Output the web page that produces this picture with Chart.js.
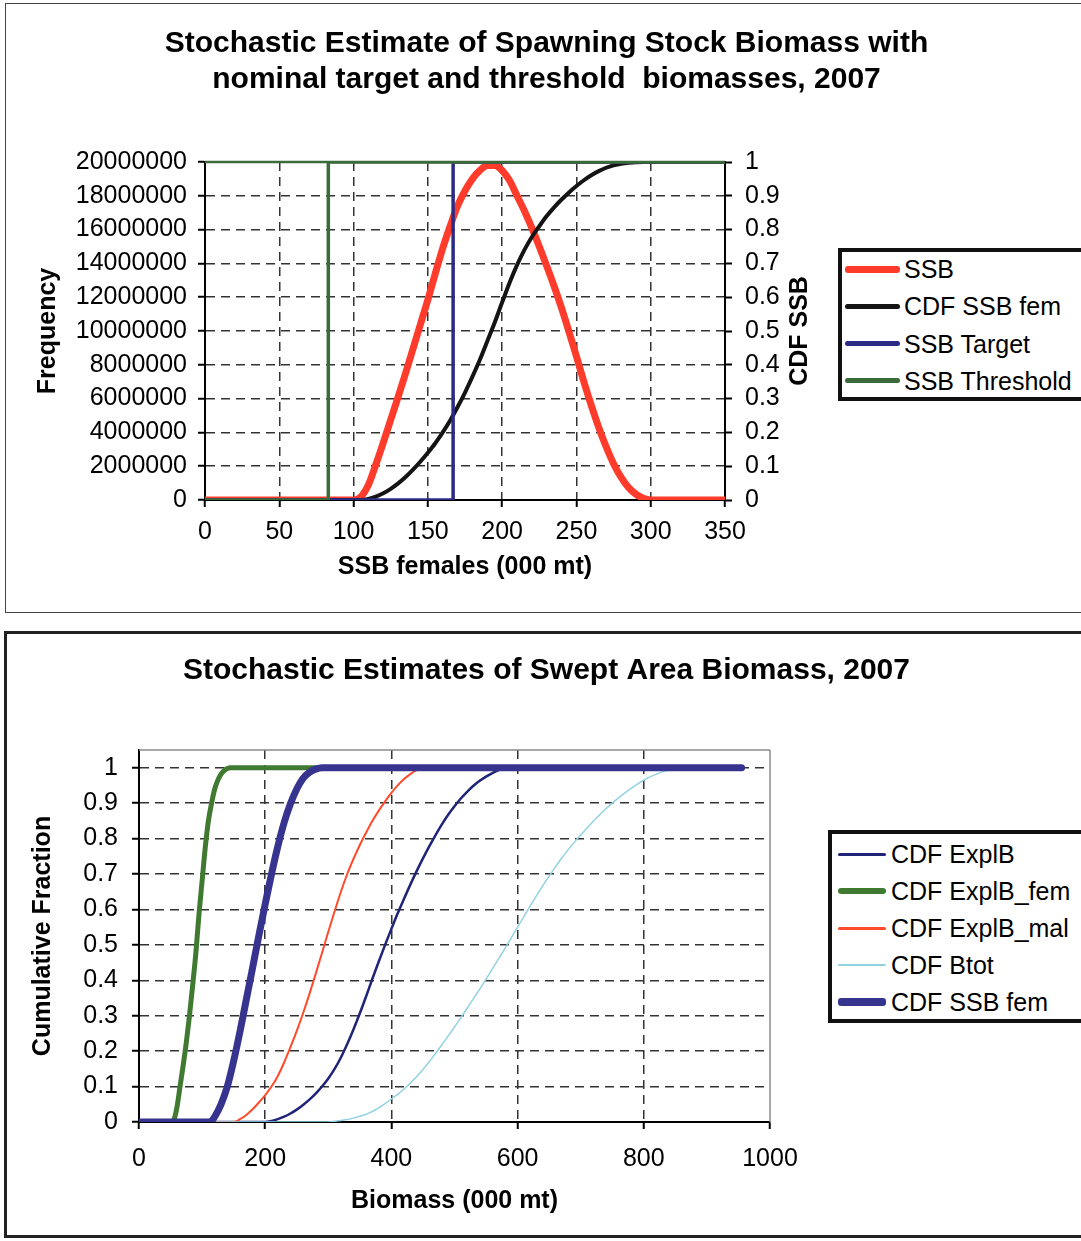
<!DOCTYPE html>
<html>
<head>
<meta charset="utf-8">
<script src="https://cdn.jsdelivr.net/npm/chart.js@4.4.1/dist/chart.umd.min.js"></script>
<style>
  html, body { margin: 0; padding: 0; background: #fff; overflow: hidden; }
  body { width: 1081px; height: 1241px; position: relative; font-family: "Liberation Sans", Arial, sans-serif; }
  .frame { position: absolute; box-sizing: border-box; }
  #frame1 { left: 5px; top: 3px; width: 1100px; height: 610px; border: 1.5px solid #444; }
  #frame2 { left: 4px; top: 631px; width: 1100px; height: 607px; border: 3px solid #222; }
  canvas { position: absolute; left: 0; }
  #c1 { top: 0; }
  #c2 { top: 620px; }
  .legend { position: absolute; box-sizing: border-box; border: 4px solid #111; background: #fff; }
  .legend .swatch { position: absolute; border-radius: 3px; }
  .legend .label { position: absolute; font-size: 25px; line-height: 28px; white-space: nowrap; color: #000; }
</style>
</head>
<body>
<div class="frame" id="frame1"></div>
<div class="frame" id="frame2"></div>
<canvas id="c1" width="1081" height="615"></canvas>
<canvas id="c2" width="1081" height="621"></canvas>
<div class="legend" id="legend1"></div>
<div class="legend" id="legend2"></div>

<script>
// ---------------------------------------------------------------------------
// Two stacked Excel-style charts: SSB frequency / CDF, and swept area CDFs
// ---------------------------------------------------------------------------

const { Chart } = window;

Chart.defaults.font.family = '"Liberation Sans", Arial, sans-serif';
Chart.defaults.color = '#000';
Chart.defaults.animation = false;

// -- Chart 1 data ---------------------------------------------------------

const ssbTicksX = [0, 50, 100, 150, 200, 250, 300, 350];
const freqTicks = [0, 2000000, 4000000, 6000000, 8000000, 10000000,
  12000000, 14000000, 16000000, 18000000, 20000000];
const cdfTicks = [0, 0.1, 0.2, 0.3, 0.4, 0.5, 0.6, 0.7, 0.8, 0.9, 1];

const ssbX = [0, 100, 105, 110, 115, 120, 125, 130, 135, 140, 145, 150, 155,
  160, 165, 170, 175, 180, 185, 190, 195, 200, 205, 210, 215, 220, 225, 230,
  235, 240, 245, 250, 255, 260, 265, 270, 275, 280, 285, 290, 295, 300, 350];

// frequency, millions
const ssbFreqM = [0, 0, 0.2, 0.9, 2.1, 3.4, 4.75, 6.1, 7.5, 8.95, 10.4,
  11.85, 13.4, 14.9, 16.2, 17.4, 18.3, 19.0, 19.5, 19.8, 19.8, 19.5, 18.9,
  18.0, 17.1, 16.1, 15.0, 13.85, 12.65, 11.35, 9.95, 8.5, 7.0, 5.6, 4.3,
  3.15, 2.15, 1.35, 0.75, 0.35, 0.1, 0, 0];

const cdfSsbFem = [0, 0, 0, 0.003, 0.01, 0.02, 0.033, 0.049, 0.068, 0.09,
  0.114, 0.14, 0.168, 0.2, 0.235, 0.275, 0.318, 0.365, 0.415, 0.47, 0.525,
  0.585, 0.643, 0.695, 0.74, 0.778, 0.81, 0.84, 0.866, 0.889, 0.91, 0.929,
  0.946, 0.961, 0.973, 0.983, 0.99, 0.995, 0.998, 0.999, 1, 1, 1];

const targetX = [0, 167, 167, 350];
const targetY = [0, 0, 1, 1];
const thresholdX = [0, 83, 83, 350];
const thresholdY = [0, 0, 1, 1];

// -- Chart 2 data ---------------------------------------------------------

const bioTicksX = [0, 200, 400, 600, 800, 1000];
const fracTicks = [0, 0.1, 0.2, 0.3, 0.4, 0.5, 0.6, 0.7, 0.8, 0.9, 1];

const explbX = [0, 200, 210, 220, 230, 240, 250, 260, 270, 280, 290, 300,
  310, 320, 330, 340, 350, 360, 370, 380, 390, 400, 410, 420, 430, 440, 450,
  460, 470, 480, 490, 500, 510, 520, 530, 540, 550, 560, 570, 580, 590, 955];
const explbY = [0, 0, 0.003, 0.008, 0.015, 0.024, 0.035, 0.048, 0.063, 0.08,
  0.1, 0.123, 0.15, 0.182, 0.22, 0.262, 0.307, 0.355, 0.405, 0.453, 0.5,
  0.545, 0.589, 0.63, 0.67, 0.708, 0.744, 0.778, 0.81, 0.84, 0.867, 0.891,
  0.913, 0.932, 0.949, 0.963, 0.975, 0.985, 0.993, 0.998, 1, 1];

const explbFemX = [0, 50, 55, 60, 65, 70, 75, 80, 85, 90, 95, 100, 105, 110,
  115, 120, 125, 130, 135, 140, 145, 955];
const explbFemY = [0, 0, 0.005, 0.04, 0.1, 0.16, 0.225, 0.3, 0.385, 0.475,
  0.585, 0.68, 0.775, 0.85, 0.9, 0.94, 0.965, 0.982, 0.992, 0.998, 1, 1];

const explbMalX = [0, 150, 160, 170, 180, 190, 200, 210, 220, 230, 240, 250,
  260, 270, 280, 290, 300, 310, 320, 330, 340, 350, 360, 370, 380, 390, 400,
  410, 420, 430, 440, 450, 955];
const explbMalY = [0, 0, 0.008, 0.02, 0.036, 0.055, 0.076, 0.1, 0.13, 0.168,
  0.211, 0.257, 0.307, 0.361, 0.418, 0.477, 0.537, 0.595, 0.65, 0.7, 0.743,
  0.782, 0.817, 0.85, 0.879, 0.905, 0.929, 0.95, 0.968, 0.982, 0.993, 1, 1];

const btotX = [0, 300, 310, 320, 330, 340, 350, 360, 370, 380, 390, 400, 410,
  420, 430, 440, 450, 460, 470, 480, 490, 500, 510, 520, 530, 540, 550, 560,
  570, 580, 590, 600, 610, 620, 630, 640, 650, 660, 670, 680, 690, 700, 710,
  720, 730, 740, 750, 760, 770, 780, 790, 800, 810, 820, 830, 840, 850, 860,
  955];
const btotY = [0, 0, 0.002, 0.004, 0.007, 0.011, 0.016, 0.022, 0.03, 0.04,
  0.052, 0.065, 0.078, 0.093, 0.11, 0.128, 0.148, 0.17, 0.194, 0.218, 0.243,
  0.268, 0.294, 0.321, 0.348, 0.375, 0.403, 0.432, 0.461, 0.49, 0.52, 0.55,
  0.58, 0.61, 0.639, 0.667, 0.694, 0.72, 0.745, 0.768, 0.79, 0.81, 0.83,
  0.849, 0.867, 0.884, 0.9, 0.915, 0.929, 0.942, 0.954, 0.965, 0.974, 0.982,
  0.989, 0.994, 0.998, 1, 1];

const ssbFemX = [0, 110, 115, 120, 130, 140, 150, 160, 170, 180, 190, 200,
  210, 220, 230, 240, 250, 260, 270, 280, 290, 955];
const ssbFemY = [0, 0, 0.003, 0.015, 0.05, 0.1, 0.172, 0.255, 0.345, 0.435,
  0.527, 0.615, 0.7, 0.778, 0.845, 0.898, 0.94, 0.97, 0.987, 0.996, 1, 1];

// -- Helpers --------------------------------------------------------------

function points(xs, ys, scale) {
  const k = scale || 1;
  return xs.map((x, i) => ({ x, y: ys[i] * k }));
}

function fixedTicks(values) {
  return (scale) => {
    scale.ticks = values.map((v) => ({ value: v }));
  };
}

// hide the grid line where an axis or frame line already sits
function gridColor(edges) {
  return (ctx) => (ctx.tick && edges.includes(ctx.tick.value) ? 'transparent' : '#333');
}

// Frame lines along the top / right of the plot area (Excel plot border)
const frameLines = {
  id: 'frameLines',
  beforeDatasetsDraw(chart, args, opts) {
    if (!opts.color) return;
    const { ctx, chartArea: a } = chart;
    ctx.save();
    ctx.lineWidth = opts.width;
    ctx.strokeStyle = opts.color;
    ctx.beginPath();
    if (opts.top) {
      ctx.moveTo(a.left, a.top);
      ctx.lineTo(a.right, a.top);
    }
    if (opts.right) {
      ctx.moveTo(a.right, a.top);
      ctx.lineTo(a.right, a.bottom);
    }
    ctx.stroke();
    ctx.restore();
  },
};

// Secondary axis title, reading bottom-to-top like Excel
const sideTitle = {
  id: 'sideTitle',
  afterDraw(chart, args, opts) {
    if (!opts.text) return;
    const { ctx, chartArea: a } = chart;
    ctx.save();
    ctx.translate(opts.x, (a.top + a.bottom) / 2);
    ctx.rotate(-Math.PI / 2);
    ctx.font = 'bold 25px "Liberation Sans", Arial, sans-serif';
    ctx.fillStyle = '#000';
    ctx.textAlign = 'center';
    ctx.textBaseline = 'middle';
    ctx.fillText(opts.text, 0, 0);
    ctx.restore();
  },
};

function lineSet(label, data, color, width, legendWidth, smooth, yAxisID) {
  return {
    label,
    data,
    borderColor: color,
    backgroundColor: color,
    borderWidth: width,
    legendWidth,
    pointRadius: 0,
    tension: 0,
    cubicInterpolationMode: smooth ? 'monotone' : 'default',
    borderCapStyle: 'round',
    borderJoinStyle: 'round',
    yAxisID,
  };
}

// later series on top, as in Excel
function stackOrder(datasets) {
  datasets.forEach((ds, i) => { ds.order = datasets.length - 1 - i; });
  return datasets;
}

function buildLegend(chart, el, cfg) {
  el.style.left = cfg.left + 'px';
  el.style.top = cfg.top + 'px';
  el.style.width = cfg.width + 'px';
  el.style.height = cfg.height + 'px';
  chart.data.datasets.forEach((ds, i) => {
    const cy = cfg.firstRow + i * cfg.rowGap - cfg.top - 4;
    const sw = document.createElement('div');
    sw.className = 'swatch';
    sw.style.left = (cfg.swatchX - cfg.left - 4) + 'px';
    sw.style.width = cfg.swatchW + 'px';
    sw.style.height = ds.legendWidth + 'px';
    sw.style.top = (cy - ds.legendWidth / 2) + 'px';
    sw.style.background = ds.borderColor;
    const tx = document.createElement('div');
    tx.className = 'label';
    tx.textContent = ds.label;
    tx.style.left = (cfg.textX - cfg.left - 4) + 'px';
    tx.style.top = (cy - 14) + 'px';
    el.append(sw, tx);
  });
}

const tickFont = { size: 25 };
const titleFont = { size: 25, weight: 'bold' };
const headFont = { size: 30, weight: 'bold', lineHeight: 1.2 };

// -- Chart 1: SSB frequency and CDF ---------------------------------------

const chart1 = new Chart(document.getElementById('c1'), {
  type: 'line',
  data: {
    datasets: stackOrder([
      lineSet('SSB', points(ssbX, ssbFreqM, 1000000), '#ff3b2b', 7, 7, true, 'y'),
      lineSet('CDF SSB fem', points(ssbX, cdfSsbFem), '#141414', 4, 5, true, 'y2'),
      lineSet('SSB Target', points(targetX, targetY), '#2b2b86', 3.5, 5, false, 'y2'),
      lineSet('SSB Threshold', points(thresholdX, thresholdY), '#3b6b3b', 3.5, 5, false, 'y2'),
    ]),
  },
  options: {
    responsive: false,
    layout: { padding: { left: 12, right: 0, top: 0, bottom: 0 } },
    scales: {
      x: {
        type: 'linear',
        min: 0,
        max: 350,
        afterBuildTicks: fixedTicks(ssbTicksX),
        afterFit: (s) => { s.height = 115; },
        grid: { color: gridColor([0, 350]), lineWidth: 1.5, tickLength: 7, tickColor: '#000', tickWidth: 2 },
        border: { color: '#000', width: 2, dash: [9, 6] },
        ticks: { color: '#000', font: tickFont, padding: 10, maxRotation: 0, autoSkip: false, callback: (v) => String(v) },
        title: { display: true, text: 'SSB females (000 mt)', color: '#000', font: titleFont, padding: { top: 0, bottom: 33 } },
      },
      y: {
        position: 'left',
        min: 0,
        max: 20000000,
        afterBuildTicks: fixedTicks(freqTicks),
        afterFit: (s) => { s.width = 193; },
        grid: { color: gridColor([0, 20000000]), lineWidth: 1.5, tickLength: 7, tickColor: '#000', tickWidth: 2 },
        border: { color: '#000', width: 2, dash: [9, 6] },
        ticks: { color: '#000', font: tickFont, padding: 11, callback: (v) => String(v) },
        title: { display: true, text: 'Frequency', color: '#000', font: titleFont, padding: { top: 21, bottom: 0 } },
      },
      y2: {
        position: 'right',
        min: 0,
        max: 1,
        afterBuildTicks: fixedTicks(cdfTicks),
        afterFit: (s) => { s.width = 356; },
        grid: { drawOnChartArea: false, tickLength: 7, tickColor: '#000', tickWidth: 2 },
        border: { color: '#000', width: 2 },
        ticks: { color: '#000', font: tickFont, padding: 13, callback: (v) => String(v) },
      },
    },
    plugins: {
      legend: { display: false },
      tooltip: { enabled: false },
      title: {
        display: true,
        text: ['Stochastic Estimate of Spawning Stock Biomass with',
          'nominal target and threshold  biomasses, 2007'],
        color: '#000',
        font: headFont,
        padding: { top: 26, bottom: 64 },
      },
      frameLines: { color: '#3b6b3b', width: 2.5, top: true, right: false },
      sideTitle: { text: 'CDF SSB', x: 800 },
    },
  },
  plugins: [frameLines, sideTitle],
});

// -- Chart 2: swept area biomass CDFs -------------------------------------

const chart2 = new Chart(document.getElementById('c2'), {
  type: 'line',
  data: {
    datasets: stackOrder([
      lineSet('CDF ExplB', points(explbX, explbY), '#1f2478', 2.5, 3, true, 'y'),
      lineSet('CDF ExplB_fem', points(explbFemX, explbFemY), '#3f7a30', 5, 6, true, 'y'),
      lineSet('CDF ExplB_mal', points(explbMalX, explbMalY), '#ff4b2b', 2, 3, true, 'y'),
      lineSet('CDF Btot', points(btotX, btotY), '#92d2e2', 1.5, 2, true, 'y'),
      lineSet('CDF SSB fem', points(ssbFemX, ssbFemY), '#36348e', 7, 8, true, 'y'),
    ]),
  },
  options: {
    responsive: false,
    layout: { padding: { left: 12, right: 0, top: 0, bottom: 0 } },
    scales: {
      x: {
        type: 'linear',
        min: 0,
        max: 1000,
        afterBuildTicks: fixedTicks(bioTicksX),
        afterFit: (s) => { s.height = 119; },
        grid: { color: gridColor([0, 1000]), lineWidth: 1.5, tickLength: 7, tickColor: '#000', tickWidth: 2 },
        border: { color: '#000', width: 2, dash: [9, 6] },
        ticks: { color: '#000', font: tickFont, padding: 15, maxRotation: 0, autoSkip: false, callback: (v) => String(v) },
        title: { display: true, text: 'Biomass (000 mt)', color: '#000', font: titleFont, padding: { top: 0, bottom: 25 } },
      },
      y: {
        position: 'left',
        min: 0,
        max: 1.05,
        afterBuildTicks: fixedTicks(fracTicks),
        afterFit: (s) => { s.width = 127; },
        grid: { color: gridColor([0]), lineWidth: 1.5, tickLength: 7, tickColor: '#000', tickWidth: 2 },
        border: { color: '#000', width: 2, dash: [9, 6] },
        ticks: { color: '#000', font: tickFont, padding: 14, callback: (v) => String(v) },
        title: { display: true, text: 'Cumulative Fraction', color: '#000', font: titleFont, padding: { top: 16, bottom: 0 } },
      },
      // empty right gutter so the title centres over the whole box
      gutter: {
        position: 'right',
        afterFit: (s) => { s.width = 311; },
        grid: { display: false },
        border: { display: false },
        ticks: { display: false },
      },
    },
    plugins: {
      legend: { display: false },
      tooltip: { enabled: false },
      title: {
        display: true,
        text: 'Stochastic Estimates of Swept Area Biomass, 2007',
        color: '#000',
        font: headFont,
        padding: { top: 33, bottom: 61 },
      },
      frameLines: { color: '#8a8a8a', width: 1.5, top: true, right: true },
    },
  },
  plugins: [frameLines],
});

// -- Legends --------------------------------------------------------------

buildLegend(chart1, document.getElementById('legend1'), {
  left: 838, top: 248, width: 270, height: 153,
  firstRow: 269, rowGap: 37.3, swatchX: 845, swatchW: 55, textX: 904,
});

buildLegend(chart2, document.getElementById('legend2'), {
  left: 828, top: 830, width: 280, height: 193,
  firstRow: 854, rowGap: 37, swatchX: 838, swatchW: 48, textX: 891,
});
</script>
</body>
</html>
